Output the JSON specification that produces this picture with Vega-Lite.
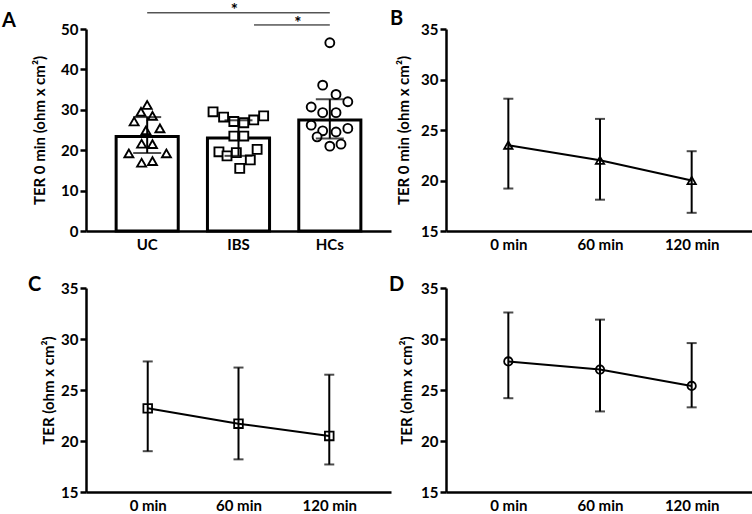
{
  "$schema": "https://vega.github.io/schema/vega-lite/v6.json",
  "background": "white",
  "padding": {"left": 2, "top": 2, "right": 0, "bottom": 0},
  "config": {
    "font": "Lato",
    "view": {"stroke": null},
    "axis": {"domainColor": "black", "domainWidth": 2.5, "tickColor": "black", "tickWidth": 2.5, "tickSize": 6, "labelPadding": 2, "labelFont": "Lato", "labelFontWeight": "bold", "labelFontSize": 15, "labelColor": "black", "titleFont": "Lato", "titleFontWeight": "bold", "titleFontSize": 15, "titleColor": "black", "grid": false},
    "title": {"font": "Lato", "fontSize": 20, "fontWeight": "bold", "color": "black", "anchor": "start", "frame": "group"}
  },
  "datasets": {
    "pointsA": [
      {"group": "UC", "ter": 31.2, "jit": 0},
      {"group": "UC", "ter": 29.5, "jit": -2},
      {"group": "UC", "ter": 28.5, "jit": 1.7},
      {"group": "UC", "ter": 27.1, "jit": -4.2},
      {"group": "UC", "ter": 25.4, "jit": 4.1},
      {"group": "UC", "ter": 24.9, "jit": -0.4},
      {"group": "UC", "ter": 21.6, "jit": -1.8},
      {"group": "UC", "ter": 21.5, "jit": 1.7},
      {"group": "UC", "ter": 19.2, "jit": -5.9},
      {"group": "UC", "ter": 19.2, "jit": 6.2},
      {"group": "UC", "ter": 16.9, "jit": -1.8},
      {"group": "UC", "ter": 17.3, "jit": 1.7},
      {"group": "IBS", "ter": 29.5, "jit": -8.2},
      {"group": "IBS", "ter": 28.2, "jit": -4.8},
      {"group": "IBS", "ter": 27.1, "jit": -1.5},
      {"group": "IBS", "ter": 26.8, "jit": 1.7},
      {"group": "IBS", "ter": 27.5, "jit": 4.9},
      {"group": "IBS", "ter": 28.5, "jit": 8.1},
      {"group": "IBS", "ter": 23.5, "jit": -1.5},
      {"group": "IBS", "ter": 23.5, "jit": 1.7},
      {"group": "IBS", "ter": 19.6, "jit": -6.3},
      {"group": "IBS", "ter": 18.6, "jit": -3.7},
      {"group": "IBS", "ter": 19.4, "jit": -0.7},
      {"group": "IBS", "ter": 20.2, "jit": 6},
      {"group": "IBS", "ter": 17.6, "jit": 3.8},
      {"group": "IBS", "ter": 15.5, "jit": 0.4},
      {"group": "HCs", "ter": 46.6, "jit": 0},
      {"group": "HCs", "ter": 36.1, "jit": -2.3},
      {"group": "HCs", "ter": 33.8, "jit": 2},
      {"group": "HCs", "ter": 32.0, "jit": 5.8},
      {"group": "HCs", "ter": 30.7, "jit": -6},
      {"group": "HCs", "ter": 29.3, "jit": -2.3},
      {"group": "HCs", "ter": 29.3, "jit": 2},
      {"group": "HCs", "ter": 26.2, "jit": -6},
      {"group": "HCs", "ter": 25.4, "jit": 5.8},
      {"group": "HCs", "ter": 24.8, "jit": -2.3},
      {"group": "HCs", "ter": 24.5, "jit": 2},
      {"group": "HCs", "ter": 23.3, "jit": -4.1},
      {"group": "HCs", "ter": 21.0, "jit": 0},
      {"group": "HCs", "ter": 21.5, "jit": 3.6}
    ],
    "summaryA": [
      {"group": "UC", "mean": 23.4, "lo": 19.3, "hi": 28.2},
      {"group": "IBS", "mean": 23.0, "lo": 18.6, "hi": 27.4},
      {"group": "HCs", "mean": 27.5, "lo": 22.9, "hi": 32.6}
    ],
    "bracket1": [{"group": "UC", "to": "HCs", "y": 54}],
    "bracket2": [{"group": "IBS", "to": "HCs", "y": 51}],
    "stars": [
      {"group": "IBS", "jit": -1.3, "y": 54.4, "label": "*"},
      {"group": "HCs", "jit": -10.3, "y": 51.3, "label": "*"}
    ],
    "uc": [
      {"t": "0 min", "mean": 23.5, "lo": 19.2, "hi": 28.1},
      {"t": "60 min", "mean": 22.0, "lo": 18.1, "hi": 26.1},
      {"t": "120 min", "mean": 20.0, "lo": 16.8, "hi": 22.9}
    ],
    "ibs": [
      {"t": "0 min", "mean": 23.2, "lo": 19.0, "hi": 27.8},
      {"t": "60 min", "mean": 21.7, "lo": 18.2, "hi": 27.2},
      {"t": "120 min", "mean": 20.5, "lo": 17.7, "hi": 26.5}
    ],
    "hcs": [
      {"t": "0 min", "mean": 27.8, "lo": 24.2, "hi": 32.6},
      {"t": "60 min", "mean": 27.0, "lo": 22.9, "hi": 31.9},
      {"t": "120 min", "mean": 25.4, "lo": 23.3, "hi": 29.6}
    ]
  },
  "bounds": "flush",
  "columns": 2,
  "spacing": {"row": 57, "column": 55},
  "concat": [
    {
      "width": 305, "height": 202,
      "title": {"text": "A", "dx": -84, "dy": 33},
      "encoding": {
        "x": {"field": "group", "type": "nominal", "scale": {"domain": ["UC", "IBS", "HCs"], "paddingInner": 0.32, "paddingOuter": 0.33}, "axis": {"title": null, "labelAngle": 0, "ticks": false, "labelPadding": 6}}
      },
      "resolve": {"scale": {"xOffset": "independent"}},
      "layer": [
        {
          "data": {"name": "summaryA"},
          "mark": {"type": "bar", "fill": "white", "stroke": "black", "strokeWidth": 3},
          "encoding": {
            "y": {"field": "mean", "type": "quantitative", "title": "TER 0 min (ohm x cm²)", "scale": {"domain": [0, 50], "nice": false}, "axis": {"values": [0, 10, 20, 30, 40, 50], "titlePadding": 13}}
          }
        },
        {
          "data": {"name": "pointsA"},
          "mark": {"type": "point", "fill": "white", "stroke": "black", "strokeWidth": 1.9, "size": 80, "opacity": 1, "filled": false, "fillOpacity": 1},
          "encoding": {
            "xOffset": {"field": "jit", "type": "quantitative", "scale": {"domain": [-10, 10]}},
            "y": {"field": "ter", "type": "quantitative", "title": "TER 0 min (ohm x cm²)"},
            "shape": {"field": "group", "type": "nominal", "scale": {"domain": ["UC", "IBS", "HCs"], "range": ["triangle-up", "square", "circle"]}, "legend": null}
          }
        },
        {
          "data": {"name": "summaryA"},
          "mark": {"type": "errorbar", "thickness": 2, "color": "black", "ticks": {"size": 28, "thickness": 2, "color": "black"}},
          "encoding": {
            "y": {"field": "lo", "type": "quantitative", "title": "TER 0 min (ohm x cm²)"},
            "y2": {"field": "hi"}
          }
        },
        {
          "data": {"name": "bracket1"},
          "mark": {"type": "rule", "color": "black", "strokeWidth": 1, "clip": false},
          "encoding": {
            "x2": {"field": "to"},
            "y": {"field": "y", "type": "quantitative", "title": "TER 0 min (ohm x cm²)"}
          }
        },
        {
          "data": {"name": "bracket2"},
          "mark": {"type": "rule", "color": "black", "strokeWidth": 1, "clip": false},
          "encoding": {
            "x": {"field": "group", "type": "nominal", "bandPosition": 0.75},
            "x2": {"field": "to"},
            "y": {"field": "y", "type": "quantitative", "title": "TER 0 min (ohm x cm²)"}
          }
        },
        {
          "data": {"name": "stars"},
          "mark": {"type": "text", "font": "Lato", "fontWeight": "bold", "fontSize": 17, "color": "black", "baseline": "middle", "clip": false},
          "encoding": {
            "xOffset": {"field": "jit", "type": "quantitative", "scale": {"domain": [-10, 10]}},
            "y": {"field": "y", "type": "quantitative", "title": "TER 0 min (ohm x cm²)"},
            "text": {"field": "label"}
          }
        }
      ]
    },
    {
      "width": 308, "height": 202,
      "title": {"text": "B", "dx": -56, "dy": 11},
      "data": {"name": "uc"},
      "encoding": {
        "x": {"field": "t", "type": "nominal", "sort": ["0 min", "60 min", "120 min"], "scale": {"type": "point", "padding": 0.68}, "axis": {"title": null, "labelAngle": 0, "ticks": false, "labelPadding": 6}},
        "y": {"field": "mean", "type": "quantitative", "scale": {"domain": [15, 35], "nice": false, "zero": false}, "axis": {"title": "TER 0 min (ohm x cm²)", "values": [15, 20, 25, 30, 35], "titlePadding": 9}}
      },
      "layer": [
        {"mark": {"type": "line", "color": "black", "strokeWidth": 2}},
        {"mark": {"type": "errorbar", "thickness": 2, "color": "black", "ticks": {"size": 10, "thickness": 2, "color": "black"}}, "encoding": {"y": {"field": "lo", "type": "quantitative"}, "y2": {"field": "hi"}}},
        {"mark": {"type": "point", "shape": "triangle-up", "stroke": "black", "strokeWidth": 1.8, "size": 70, "filled": false, "opacity": 1}}
      ]
    },
    {
      "width": 305, "height": 204,
      "title": {"text": "C", "dx": -58, "dy": 18},
      "data": {"name": "ibs"},
      "encoding": {
        "x": {"field": "t", "type": "nominal", "sort": ["0 min", "60 min", "120 min"], "scale": {"type": "point", "padding": 0.68}, "axis": {"title": null, "labelAngle": 0, "ticks": false, "labelPadding": 6}},
        "y": {"field": "mean", "type": "quantitative", "scale": {"domain": [15, 35], "nice": false, "zero": false}, "axis": {"title": "TER (ohm x cm²)", "values": [15, 20, 25, 30, 35], "titlePadding": 4}}
      },
      "layer": [
        {"mark": {"type": "line", "color": "black", "strokeWidth": 2}},
        {"mark": {"type": "errorbar", "thickness": 2, "color": "black", "ticks": {"size": 10, "thickness": 2, "color": "black"}}, "encoding": {"y": {"field": "lo", "type": "quantitative"}, "y2": {"field": "hi"}}},
        {"mark": {"type": "point", "shape": "square", "stroke": "black", "strokeWidth": 1.8, "size": 75, "filled": false, "opacity": 1}}
      ]
    },
    {
      "width": 308, "height": 204,
      "title": {"text": "D", "dx": -57, "dy": 18},
      "data": {"name": "hcs"},
      "encoding": {
        "x": {"field": "t", "type": "nominal", "sort": ["0 min", "60 min", "120 min"], "scale": {"type": "point", "padding": 0.68}, "axis": {"title": null, "labelAngle": 0, "ticks": false, "labelPadding": 6}},
        "y": {"field": "mean", "type": "quantitative", "scale": {"domain": [15, 35], "nice": false, "zero": false}, "axis": {"title": "TER (ohm x cm²)", "values": [15, 20, 25, 30, 35], "titlePadding": 6}}
      },
      "layer": [
        {"mark": {"type": "line", "color": "black", "strokeWidth": 2}},
        {"mark": {"type": "errorbar", "thickness": 2, "color": "black", "ticks": {"size": 10, "thickness": 2, "color": "black"}}, "encoding": {"y": {"field": "lo", "type": "quantitative"}, "y2": {"field": "hi"}}},
        {"mark": {"type": "point", "shape": "circle", "stroke": "black", "strokeWidth": 1.8, "size": 70, "filled": false, "opacity": 1}}
      ]
    }
  ]
}
